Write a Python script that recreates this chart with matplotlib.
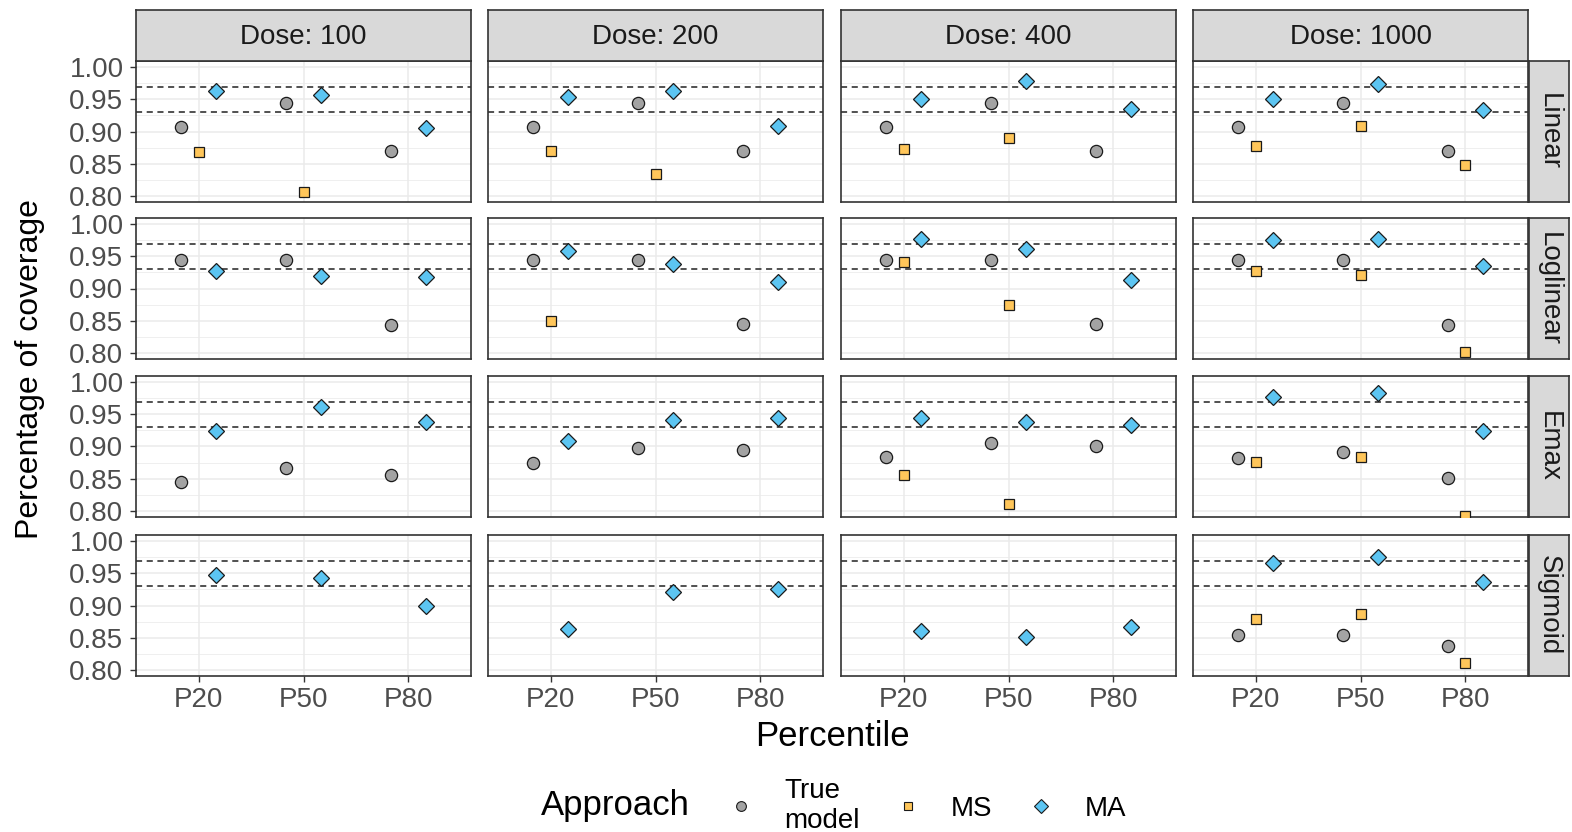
import numpy as np
import matplotlib
matplotlib.use("Agg")
import matplotlib.pyplot as plt
from matplotlib.lines import Line2D
from matplotlib.ticker import MultipleLocator

plt.rcParams['font.family'] = ['Liberation Sans', 'DejaVu Sans']

# ---- data -------------------------------------------------------------
doses = ["100", "200", "400", "1000"]
models = ["Linear", "Loglinear", "Emax", "Sigmoid"]
percentiles = ["P20", "P50", "P80"]
approaches = ["True\nmodel", "MS", "MA"]
nan = np.nan

# coverage per dose (rows) and percentile (columns)
true_linear = [[0.907, 0.944, 0.870], [0.907, 0.944, 0.870], [0.907, 0.944, 0.870], [0.907, 0.944, 0.870]]
ms_linear = [[0.868, 0.806, nan], [0.870, 0.834, nan], [0.873, 0.890, nan], [0.878, 0.909, 0.848]]
ma_linear = [[0.963, 0.957, 0.906], [0.954, 0.963, 0.909], [0.951, 0.979, 0.935], [0.951, 0.974, 0.934]]

true_loglinear = [[0.944, 0.944, 0.843], [0.945, 0.945, 0.844], [0.945, 0.945, 0.844], [0.944, 0.944, 0.843]]
ms_loglinear = [[nan, nan, nan], [0.850, nan, nan], [0.941, 0.875, nan], [0.927, 0.921, 0.801]]
ma_loglinear = [[0.927, 0.920, 0.918], [0.959, 0.939, 0.910], [0.978, 0.961, 0.914], [0.975, 0.977, 0.935]]

true_emax = [[0.845, 0.866, 0.856], [0.874, 0.897, 0.895], [0.883, 0.906, 0.900], [0.882, 0.892, 0.851]]
ms_emax = [[nan, nan, nan], [nan, nan, nan], [0.855, 0.810, nan], [0.876, 0.884, 0.792]]
ma_emax = [[0.924, 0.961, 0.938], [0.908, 0.942, 0.944], [0.944, 0.939, 0.933], [0.978, 0.983, 0.924]]

true_sigmoid = [[nan, nan, nan], [nan, nan, nan], [nan, nan, nan], [0.854, 0.854, 0.837]]
ms_sigmoid = [[nan, nan, nan], [nan, nan, nan], [nan, nan, nan], [0.879, 0.886, 0.810]]
ma_sigmoid = [[0.947, 0.943, 0.900], [0.864, 0.921, 0.925], [0.860, 0.851, 0.866], [0.967, 0.976, 0.936]]

bounds = [0.93, 0.97]
y_ticks = [0.80, 0.85, 0.90, 0.95, 1.00]

series = {
    "Linear": (true_linear, ms_linear, ma_linear),
    "Loglinear": (true_loglinear, ms_loglinear, ma_loglinear),
    "Emax": (true_emax, ms_emax, ma_emax),
    "Sigmoid": (true_sigmoid, ms_sigmoid, ma_sigmoid),
}

# ---- styling ----------------------------------------------------------
markers = ["o", "s", "D"]
msizes = [8.8, 6.8, 8.3]
fills = ["#A3A3A3", "#FFC65A", "#5CC5F2"]
offsets = [-1 / 6, 0.0, 1 / 6]
frame_col = "#333333"
tick_col = "#4D4D4D"
small_fs = 20
title_fs = 25

W, H = 1572, 832
fig = plt.figure(figsize=(W / 100, H / 100), dpi=100)


def px_rect(x0, y0, w, h):
    return [x0 / W, 1 - (y0 + h) / H, w / W, h / H]


col_x = [136, 488, 841, 1193]
row_y = [61, 218, 376, 535]
pw, ph = 335, 141

for r, model in enumerate(models):
    for c, dose in enumerate(doses):
        ax = fig.add_axes(px_rect(col_x[c], row_y[r], pw, ph))
        ax.set_xlim(-0.6, 2.6)
        ax.set_ylim(0.79, 1.01)
        ax.set_facecolor("white")
        ax.set_axisbelow(True)
        ax.yaxis.set_major_locator(MultipleLocator(0.05))
        ax.yaxis.set_minor_locator(MultipleLocator(0.025))
        ax.set_yticks(y_ticks)
        ax.set_xticks(range(len(percentiles)))
        ax.set_xticklabels(percentiles)
        ax.grid(which="major", color="#EBEBEB", lw=1.1)
        ax.grid(which="minor", axis="y", color="#EBEBEB", lw=0.55)
        ax.tick_params(which="minor", length=0)
        for sp in ax.spines.values():
            sp.set_color(frame_col)
            sp.set_linewidth(1.2)

        for yb in bounds:
            ax.axhline(yb, color="#222222", lw=1.1, ls=(0, (4, 3)), zorder=2)

        x = np.arange(len(percentiles))
        for k, vals in enumerate(series[model]):
            ax.plot(x + offsets[k], vals[c], ls="none", marker=markers[k],
                    ms=msizes[k], mfc=fills[k], mec="#1A1A1A", mew=0.9, zorder=3)

        ax.tick_params(axis="both", which="major", length=4, width=1.0,
                       color=frame_col, labelcolor=tick_col, labelsize=small_fs)
        if c == 0:
            ax.set_yticklabels([f"{v:.2f}" for v in y_ticks])
            ax.tick_params(axis="y", pad=5)
        else:
            ax.tick_params(axis="y", left=False, labelleft=False)
        if r == len(models) - 1:
            ax.tick_params(axis="x", pad=4)
        else:
            ax.tick_params(axis="x", bottom=False, labelbottom=False)

# column strips
for c, dose in enumerate(doses):
    sax = fig.add_axes(px_rect(col_x[c], 10, pw, 51))
    sax.set_facecolor("#D9D9D9")
    sax.set_xticks([]); sax.set_yticks([])
    for sp in sax.spines.values():
        sp.set_color(frame_col); sp.set_linewidth(1.2)
    sax.text(0.5, 0.47, f"Dose: {dose}", ha="center", va="center",
             fontsize=small_fs, color="#1A1A1A", transform=sax.transAxes)

# row strips
for r, model in enumerate(models):
    sax = fig.add_axes(px_rect(1529, row_y[r], 40, ph))
    sax.set_facecolor("#D9D9D9")
    sax.set_xticks([]); sax.set_yticks([])
    for sp in sax.spines.values():
        sp.set_color(frame_col); sp.set_linewidth(1.2)
    sax.text(0.5, 0.5, model, ha="center", va="center", rotation=-90,
             fontsize=small_fs, color="#1A1A1A", transform=sax.transAxes)

# axis titles
fig.text(832 / W, 1 - 737 / H, "Percentile", ha="center", va="center",
         fontsize=title_fs, color="black")
fig.text(30 / W, 1 - 369 / H, "Percentage of coverage", ha="center", va="center",
         rotation=90, fontsize=23, color="black")

# legend
fig.text(541 / W, 1 - 806 / H, "Approach", ha="left", va="center",
         fontsize=title_fs, color="black")
handles = [Line2D([], [], ls="none", marker=markers[k], ms=msizes[k] * 0.8,
                  mfc=fills[k], mec="#1A1A1A", mew=0.8) for k in range(3)]
fig.legend(handles, approaches, ncol=3, loc="center left",
           bbox_to_anchor=(727 / W, 1 - 806 / H), frameon=False,
           fontsize=small_fs, handlelength=1.0, handletextpad=1.05,
           columnspacing=1.25, labelspacing=0.2, borderpad=0, borderaxespad=0)

fig.savefig("out.png", dpi=100)
